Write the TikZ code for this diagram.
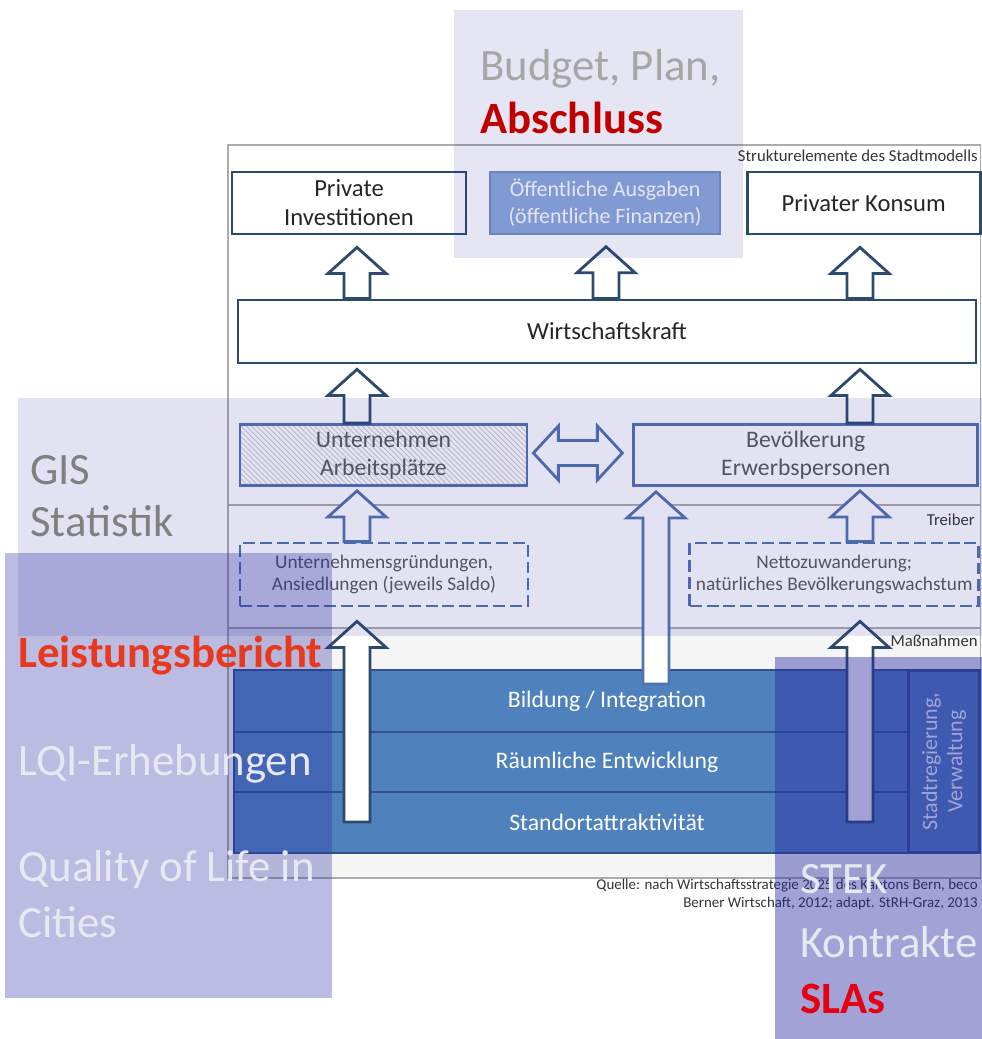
\documentclass[tikz,border=0pt]{standalone}
\usepackage{fontspec}
\setmainfont{Carlito}
\usepackage{tikz}
\usetikzlibrary{positioning, calc, patterns}
\definecolor{framenavy}{HTML}{2C4A6E}
\definecolor{drivblue}{HTML}{5173AE}
\definecolor{publicblue}{HTML}{8FAADC}
\definecolor{measureblue}{HTML}{4F81BD}
\definecolor{measureline}{HTML}{2F528F}
\definecolor{boxtext}{HTML}{595959}
\definecolor{panelviolet}{RGB}{40,40,160}
\definecolor{labelgray}{HTML}{808080}
\definecolor{budgetgray}{HTML}{A6A6A6}
\definecolor{labelwhite}{HTML}{E8E8F2}
\definecolor{closingred}{HTML}{C00000}
\definecolor{reportred}{HTML}{E8381E}
\definecolor{slared}{HTML}{E60012}

% hollow block arrows between two named coordinates
\newcommand{\upblock}[3][]{%
  \draw[blockarrow,#1] ($(#2)+(-13,0)$) -- ($(#3)+(-13,26)$) -- ($(#3)+(-29,26)$)
    -- (#3) -- ($(#3)+(29,26)$) -- ($(#3)+(13,26)$) -- ($(#2)+(13,0)$) -- cycle;}
\newcommand{\bothblock}[3][]{%
  \draw[blockarrow,#1] (#2) -- ($(#2)+(25,-27)$) -- ($(#2)+(25,-12.5)$)
    -- ($(#3)+(-25,-12.5)$) -- ($(#3)+(-25,-27)$) -- (#3) -- ($(#3)+(-25,27)$)
    -- ($(#3)+(-25,12.5)$) -- ($(#2)+(25,12.5)$) -- ($(#2)+(25,27)$) -- cycle;}

\begin{document}
\begin{tikzpicture}[
    x=0.02cm, y=-0.02cm,
    topbox/.style={
        rectangle,
        draw=framenavy,
        fill=white,
        line width=1.6pt,
        minimum height=1.24cm,
        inner sep=0pt,
        align=center,
        text=black!85,
        font=\fontsize{14}{16.5}\selectfont
    },
    pubbox/.style={
        topbox,
        draw=publicblue!85!black,
        line width=0.8pt,
        fill=publicblue,
        text=white,
        font=\fontsize{12.5}{15.5}\selectfont
    },
    midbox/.style={
        rectangle,
        draw=drivblue,
        line width=1.6pt,
        minimum height=1.22cm,
        inner sep=0pt,
        align=center,
        text=boxtext,
        font=\fontsize{13.5}{16}\selectfont
    },
    dashbox/.style={
        midbox,
        dash pattern=on 6.8pt off 2.8pt,
        minimum height=1.26cm,
        font=\fontsize{11}{13}\selectfont
    },
    rowbox/.style={
        rectangle,
        fill=measureblue,
        draw=measureline,
        line width=1.2pt,
        outer sep=0pt,
        inner sep=0pt,
        minimum width=14.92cm,
        text=white,
        font=\fontsize{13.5}{16}\selectfont
    },
    blockarrow/.style={
        draw=framenavy,
        fill=white,
        line width=1.6pt,
        line join=miter
    },
    framegray/.style={draw=gray!65, line width=0.8pt},
    tag/.style={anchor=base east, inner sep=0pt, text=black!80,
        font=\fontsize{9.5}{11}\selectfont},
    biglabel/.style={anchor=base west, inner sep=0pt,
        font=\fontsize{25.5}{30}\selectfont}
]
\useasboundingbox (0,0) rectangle (982,1039);

% frame of the city model with its three sections
\fill[gray!8] (228,628) rectangle (980.5,878);
\draw[framegray] (228,145) rectangle (980.5,878);
\draw[framegray] (228,505) -- (980.5,505);
\draw[framegray] (228,628) -- (980.5,628);
\node[tag] (lblstruct) at (978,161) {Strukturelemente des Stadtmodells};
\node[tag] (lbldriver) at (975,525) {Treiber};
\node[tag] (lblmeasure) at (978,646) {Maßnahmen};

% structure elements
\node[topbox, minimum width=4.68cm] (privinv) at (349,203) {Private\\Investitionen};
\node[pubbox, minimum width=4.6cm, right=0.44cm of privinv] (pubspend) {Öffentliche Ausgaben\\(öffentliche Finanzen)};
\node[topbox, minimum width=4.66cm, right=0.5cm of pubspend] (privcons) {Privater Konsum};
\node[topbox, minimum width=14.76cm, minimum height=1.26cm] (econ) at (607,331.5) {Wirtschaftskraft};

\node[midbox, minimum width=5.74cm, pattern=north west lines, pattern color=gray!45] (firms) at (383.5,455) {Unternehmen\\Arbeitsplätze};
\node[midbox, minimum width=6.88cm, right=2.08cm of firms] (people) {Bevölkerung\\Erwerbspersonen};

% drivers
\node[dashbox, minimum width=5.76cm] (startups) at (384,574.5) {Unternehmensgründungen,\\Ansiedlungen (jeweils Saldo)};
\node[dashbox, minimum width=5.78cm, right=3.18cm of startups] (migration) {Nettozuwanderung;\\natürliches Bevölkerungswachstum};

% measures
\node[rowbox, minimum height=1.24cm] (edu) at (607,701) {Bildung / Integration};
\node[rowbox, minimum height=1.2cm, below=0pt of edu] (space) {Räumliche Entwicklung};
\node[rowbox, minimum height=1.22cm, below=0pt of space] (site) {Standortattraktivität};
\node[rowbox, minimum width=3.64cm, minimum height=1.42cm, rotate=90, align=center,
      font=\fontsize{12.5}{14.5}\selectfont] (govt) at (944,761.5) {Stadtregierung,\\Verwaltung};

\node[anchor=base east, align=right, inner sep=0pt, text=black!80,
      font=\fontsize{8.5}{10.2}\selectfont] (source) at (978,907)
      {Quelle: nach Wirtschaftsstrategie 2025 des Kantons Bern, beco\\Berner Wirtschaft, 2012; adapt. StRH-Graz, 2013};

% arrow columns
\coordinate (colL) at (357,0);
\coordinate (colM) at (606,0);
\coordinate (colR) at (860,0);
\coordinate (colB) at (656,0);

\coordinate (footL1) at (econ.north -| colL);
\coordinate (footM1) at (econ.north -| colM);
\coordinate (footR1) at (econ.north -| colR);
\coordinate (tipL1) at ($(privinv.south -| colL)+(0,12)$);
\coordinate (tipM1) at ($(pubspend.south -| colM)+(0,12)$);
\coordinate (tipR1) at ($(privcons.south -| colR)+(0,12)$);
\upblock{footL1}{tipL1}
\upblock{footM1}{tipM1}
\upblock{footR1}{tipR1}

\coordinate (footL2) at (firms.north -| colL);
\coordinate (footR2) at (people.north -| colR);
\coordinate (tipL2) at ($(econ.south -| colL)+(0,5)$);
\coordinate (tipR2) at ($(econ.south -| colR)+(0,5)$);
\upblock{footL2}{tipL2}
\upblock{footR2}{tipR2}

\coordinate (footL3) at (startups.north -| colL);
\coordinate (footR3) at (migration.north -| colR);
\coordinate (tipL3) at ($(firms.south -| colL)+(0,4)$);
\coordinate (tipR3) at ($(people.south -| colR)+(0,4)$);
\upblock[draw=drivblue]{footL3}{tipL3}
\upblock[draw=drivblue]{footR3}{tipR3}

\coordinate (footB) at ($(edu.north -| colB)+(0,14)$);
\coordinate (tipB) at ($(people.south -| colB)+(0,5)$);
\upblock[draw=drivblue]{footB}{tipB}

\coordinate (footL4) at ($(site.south -| colL)+(0,-31)$);
\coordinate (footR4) at ($(site.south -| colR)+(0,-31)$);
\coordinate (tipL4) at ($(startups.south -| colL)+(0,14)$);
\coordinate (tipR4) at ($(migration.south -| colR)+(0,14)$);
\upblock{footL4}{tipL4}
\upblock{footR4}{tipR4}

\coordinate (tipW) at ($(firms.east)+(5,-2)$);
\coordinate (tipE) at ($(tipW -| people.west)+(-10,0)$);
\bothblock[draw=drivblue]{tipW}{tipE}

% translucent panels on top
\fill[panelviolet, fill opacity=0.12] (454,10) rectangle (743,258);
\fill[panelviolet, fill opacity=0.135] (18,398) rectangle (982,636);
\fill[panelviolet, fill opacity=0.31] (5,553) rectangle (332,998);
\fill[panelviolet, fill opacity=0.43] (775,657) rectangle (982,1039);

\node[biglabel, text=budgetgray] (budget) at (480,80) {Budget, Plan,};
\node[biglabel, text=closingred, font=\fontsize{25.5}{30}\selectfont\bfseries] (closing) at (480,133) {Abschluss};
\node[biglabel, text=labelgray] (gis) at (30,484) {GIS};
\node[biglabel, text=labelgray] (stats) at (30,536) {Statistik};
\node[biglabel, text=reportred, font=\fontsize{25.5}{30}\selectfont\bfseries] (report) at (18,667) {Leistungsbericht};
\node[biglabel, text=labelwhite] (lqi) at (18,775) {LQI-Erhebungen};
\node[biglabel, text=labelwhite] (qol) at (18,881) {Quality of Life in};
\node[biglabel, text=labelwhite] (cities) at (18,937) {Cities};
\node[biglabel, text=labelwhite] (stek) at (800,893) {STEK};
\node[biglabel, text=labelwhite] (contracts) at (800,957) {Kontrakte};
\node[biglabel, text=slared, font=\fontsize{25.5}{30}\selectfont\bfseries] (slas) at (800,1013) {SLAs};

\end{tikzpicture}
\end{document}
